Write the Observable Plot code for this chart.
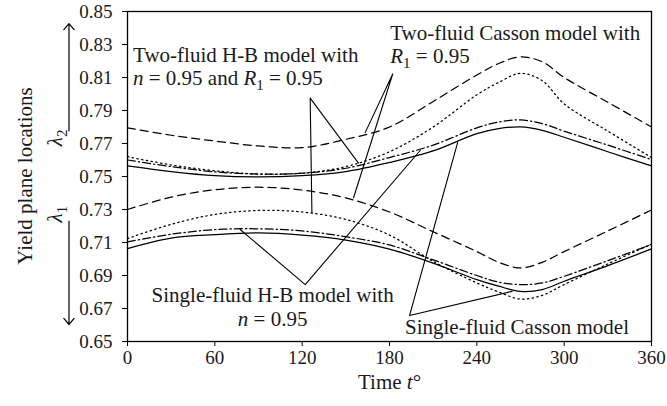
<!DOCTYPE html>
<html><head><meta charset="utf-8">
<script src="https://cdn.jsdelivr.net/npm/d3@7"></script>
<script src="https://cdn.jsdelivr.net/npm/@observablehq/plot@0.6"></script>
<style>
body{margin:0;background:#fff;}
#chart svg{display:block;}
</style>
</head><body><div id="chart"></div>
<script>
// ---- data ----
const times = [0,30,60,90,120,150,180,210,240,255,270,285,300,330,360];
// upper yield plane λ2
const twoCassonL2    = [0.7795,0.775,0.7715,0.7685,0.7675,0.7725,0.780,0.7955,0.8115,0.8185,0.8225,0.8195,0.810,0.795,0.780];
const twoHBL2        = [0.762,0.757,0.7535,0.7515,0.752,0.756,0.765,0.780,0.7995,0.807,0.8125,0.808,0.794,0.7775,0.7615];
const singleHBL2     = [0.760,0.756,0.7528,0.7515,0.752,0.755,0.7615,0.769,0.7795,0.783,0.7843,0.782,0.7775,0.769,0.7603];
const singleCassonL2 = [0.7564,0.753,0.7505,0.7497,0.7505,0.753,0.7585,0.7655,0.776,0.779,0.7801,0.778,0.7738,0.765,0.7564];
// lower yield plane λ1
const twoCassonL1    = [0.730,0.7375,0.742,0.7435,0.7418,0.737,0.7285,0.7165,0.7045,0.698,0.6946,0.698,0.7045,0.717,0.7297];
const twoHBL1        = [0.7124,0.721,0.727,0.7294,0.7285,0.724,0.7145,0.6985,0.6855,0.680,0.6757,0.678,0.6845,0.697,0.709];
const singleHBL1     = [0.7104,0.715,0.7178,0.7183,0.717,0.7135,0.7085,0.6995,0.690,0.686,0.6845,0.6855,0.6895,0.699,0.7088];
const singleCassonL1 = [0.7063,0.7127,0.7148,0.7158,0.7145,0.7115,0.706,0.6975,0.6875,0.6835,0.6804,0.6815,0.6865,0.696,0.7061];

const xTicks = [0,60,120,180,240,300,360];
const yTicks = [0.65,0.67,0.69,0.71,0.73,0.75,0.77,0.79,0.81,0.83,0.85];

// annotations (data units)
const labelsLeft = [
  {t:3.8,   v:0.8235, text:"Two-fluid H-B model with"},
  {t:3.8,   v:0.8095, text:"*n* = 0.95 and *R*_1 = 0.95"},
  {t:180.5, v:0.8366, text:"Two-fluid Casson model with"},
  {t:180.5, v:0.8226, text:"*R*_1 = 0.95"}
];
const labelsCenter = [
  {t:99.7,  v:0.6778, text:"Single-fluid H-B model with"},
  {t:99.7,  v:0.6632, text:"*n* = 0.95"},
  {t:267.6, v:0.6587, text:"Single-fluid Casson model"}
];
const leaders = [
  {id:"A", pts:[[126.7,0.728],[125.5,0.7975],[158.7,0.7581]]},
  {id:"B", pts:[[163.3,0.7766],[182.2,0.8121],[155.3,0.7371]]},
  {id:"C", pts:[[77.4,0.7179],[122.1,0.6845],[201.2,0.7659]]},
  {id:"D", pts:[[264.2,0.6804],[193.8,0.6658],[226.8,0.7705]]}
];
const lambdaArrows = [
  {t:-40.2, v1:0.7777, v2:0.8427},
  {t:-40.2, v1:0.7229, v2:0.6603}
];
const lambdaLabels = [
  {v:0.7734, text:"*λ*_2"},
  {v:0.7272, text:"*λ*_1"}
];

const series = [
  {values:twoCassonL2, dash:"8,5"},
  {values:twoHBL2, dash:"1.4,3.4"},
  {values:singleHBL2, dash:"8,3,1.4,3"},
  {values:singleCassonL2, dash:null},
  {values:twoCassonL1, dash:"8,5"},
  {values:twoHBL1, dash:"1.4,3.4"},
  {values:singleHBL1, dash:"8,3,1.4,3"},
  {values:singleCassonL1, dash:null}
];

const leaderRows = leaders.flatMap(l => l.pts.map(([t,v]) => ({id:l.id, t, v})));
const FS = 19;   // tick labels
const TS = 21;   // annotation text
const INK = "#1a1a1a";

const chart = Plot.plot({
  width: 667,
  height: 406,
  marginLeft: 127,
  marginRight: 16,
  marginTop: 11,
  marginBottom: 65,
  style: {fontFamily: "'Liberation Serif', 'DejaVu Serif', serif", fontSize: FS + "px", color: INK, background: "#fff"},
  x: {domain:[0,360]},
  y: {domain:[0.65,0.85]},
  marks: [
    Plot.frame({stroke:"#000", strokeWidth:1.3}),
    Plot.axisX({ticks:xTicks, tickSize:5, tickPadding:4, label:null, fontSize:FS, stroke:"#000"}),
    Plot.axisY({ticks:yTicks, tickSize:5, tickPadding:10, tickFormat:d=>d.toFixed(2), label:null, fontSize:FS, stroke:"#000"}),
    ...series.map(s => Plot.line(times.map((t,i)=>({t, v:s.values[i]})), {
      x:"t", y:"v", curve:"catmull-rom", stroke:"#000", strokeWidth:1.25,
      strokeDasharray: s.dash || undefined
    })),
    Plot.line(leaderRows, {x:"t", y:"v", z:"id", stroke:"#000", strokeWidth:1.1}),
    Plot.text(labelsLeft, {x:"t", y:"v", text:"text", textAnchor:"start", fontSize:TS, fill:INK}),
    Plot.text(labelsCenter, {x:"t", y:"v", text:"text", textAnchor:"middle", fontSize:TS, fill:INK}),
    Plot.arrow(lambdaArrows, {x1:"t", x2:"t", y1:"v1", y2:"v2", stroke:"#000", strokeWidth:1.2, headLength:10, headAngle:80, clip:false}),
    Plot.text(lambdaLabels, {y:"v", text:"text", frameAnchor:"left", textAnchor:"middle", dx:-72, rotate:-90, fontSize:TS, fill:INK}),
    Plot.text(["Yield plane locations"], {y:[0.7503], text:d=>d, frameAnchor:"left", textAnchor:"middle", dx:-102, rotate:-90, fontSize:TS, fill:INK}),
    Plot.text(["Time *t*°"], {frameAnchor:"bottom", textAnchor:"middle", dy:47, text:d=>d, fontSize:TS, fill:INK})
  ]
});

// rich text: *italic* and _subscript
const NS = "http://www.w3.org/2000/svg";
chart.querySelectorAll("text").forEach(el => {
  if (el.querySelector("tspan")) return;
  const s = el.textContent;
  if (!/[*_]/.test(s)) return;
  el.textContent = "";
  const parts = s.split(/(\*[^*]+\*|_\d)/).filter(p => p);
  let inSub = false;
  parts.forEach(p => {
    const ts = document.createElementNS(NS, "tspan");
    if (p.startsWith("*")) {
      ts.textContent = p.slice(1, -1);
      ts.setAttribute("font-style", "italic");
      if (inSub) { ts.setAttribute("dy", "-5"); inSub = false; }
    } else if (p.startsWith("_")) {
      ts.textContent = p.slice(1);
      ts.setAttribute("font-size", Math.round(TS*0.7));
      ts.setAttribute("dy", "5");
      inSub = true;
    } else {
      ts.textContent = p;
      if (inSub) { ts.setAttribute("dy", "-5"); inSub = false; }
    }
    el.appendChild(ts);
  });
});

document.getElementById("chart").appendChild(chart);
</script>
</body></html>
